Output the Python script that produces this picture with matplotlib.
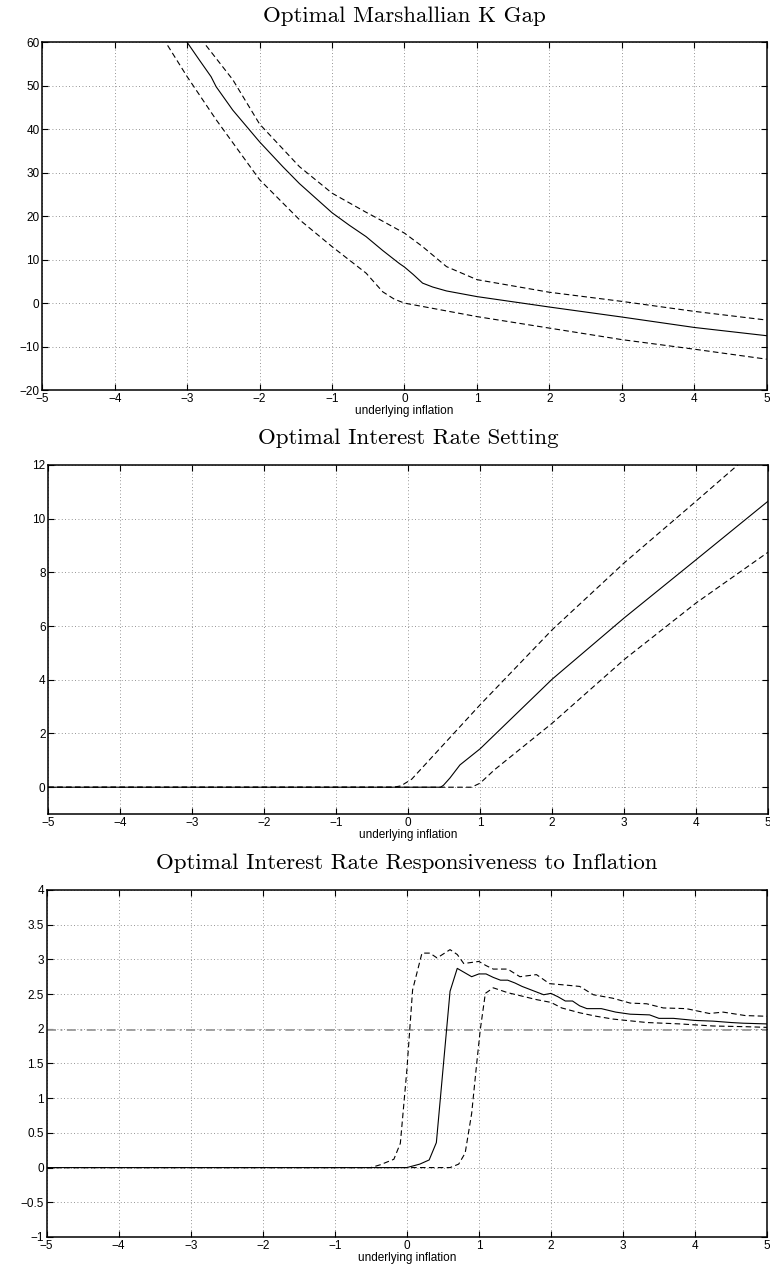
import numpy as np
import matplotlib.pyplot as plt

# Optimal Marshallian K gap: central path and upper/lower bands
k_x = [-3.0, -2.83, -2.67, -2.6, -2.37, -2.0, -1.68, -1.45, -1.0, -0.76, -0.53, -0.3, -0.07,
       0.0, 0.12, 0.25, 0.39, 0.58, 1.0, 2.0, 3.0, 4.0, 5.0]
k_mid = [60.0, 55.9, 52.1, 49.8, 44.4, 37.1, 31.4, 27.5, 20.8, 17.9, 15.3, 12.1, 9.1,
         8.3, 6.6, 4.6, 3.7, 2.8, 1.5, -0.9, -3.2, -5.6, -7.5]
k_up_x = [-2.74, -2.37, -2.0, -1.45, -1.0, -0.53, -0.35, 0.0, 0.25, 0.58, 1.0, 2.0, 3.0, 4.0, 5.0]
k_up = [59.3, 51.4, 41.2, 31.4, 25.3, 20.9, 19.3, 16.1, 13.0, 8.4, 5.4, 2.5, 0.4, -1.9, -3.9]
k_lo_x = [-3.27, -3.0, -2.6, -2.0, -1.45, -1.0, -0.53, -0.3, -0.14, 0.0, 1.0, 2.0, 3.0, 4.0, 5.0]
k_lo = [59.3, 52.1, 42.2, 28.4, 19.2, 13.0, 6.9, 2.6, 0.9, 0.0, -3.1, -5.75, -8.4, -10.6, -12.9]

# Optimal interest rate setting
r_x = [-5.0, 0.45, 0.49, 0.58, 0.72, 1.0, 2.0, 3.0, 4.0, 5.0]
r_mid = [0.0, 0.0, 0.07, 0.34, 0.83, 1.43, 4.02, 6.30, 8.47, 10.65]
r_up_x = [-5.0, -0.2, -0.1, 0.05, 1.0, 2.0, 3.0, 4.0, 4.58]
r_up = [0.0, 0.0, 0.05, 0.3, 3.07, 5.86, 8.35, 10.65, 12.0]
r_lo_x = [-5.0, 0.88, 1.0, 1.2, 2.0, 3.0, 4.0, 5.0]
r_lo = [0.0, 0.0, 0.15, 0.65, 2.38, 4.75, 6.86, 8.75]

# Optimal interest rate responsiveness to inflation
s_x = [-5.0, 0.0, 0.18, 0.31, 0.41, 0.6, 0.7, 0.9, 1.0, 1.1, 1.2, 1.3, 1.4, 1.5, 1.6, 1.7,
       1.8, 1.9, 2.0, 2.1, 2.2, 2.3, 2.4, 2.5, 2.7, 2.9, 3.1, 3.37, 3.5, 3.7, 4.0, 4.25,
       4.5, 4.67, 5.0]
s_mid = [0.0, 0.0, 0.05, 0.11, 0.36, 2.54, 2.87, 2.75, 2.79, 2.79, 2.74, 2.70, 2.70, 2.66,
         2.61, 2.57, 2.53, 2.49, 2.51, 2.46, 2.40, 2.40, 2.33, 2.29, 2.29, 2.24, 2.21, 2.20,
         2.15, 2.15, 2.12, 2.11, 2.09, 2.08, 2.07]
s_up_x = [-5.0, -0.5, -0.37, -0.18, -0.09, 0.0, 0.08, 0.21, 0.32, 0.42, 0.6, 0.7, 0.79, 1.0,
          1.1, 1.2, 1.4, 1.57, 1.8, 1.98, 2.2, 2.4, 2.59, 2.86, 3.1, 3.33, 3.56, 3.88, 4.2,
          4.39, 4.7, 5.0]
s_up = [0.0, 0.0, 0.04, 0.12, 0.35, 1.4, 2.56, 3.09, 3.09, 3.02, 3.14, 3.07, 2.94, 2.97,
        2.91, 2.86, 2.86, 2.75, 2.78, 2.65, 2.63, 2.61, 2.49, 2.44, 2.37, 2.36, 2.30, 2.29,
        2.22, 2.24, 2.19, 2.18]
s_lo_x = [-5.0, 0.6, 0.72, 0.81, 0.9, 0.97, 1.02, 1.09, 1.2, 1.4, 1.6, 1.8, 2.0, 2.15, 2.4,
          2.63, 2.86, 3.33, 3.79, 4.25, 4.7, 5.0]
s_lo = [0.0, 0.0, 0.05, 0.21, 0.78, 1.5, 1.99, 2.51, 2.59, 2.52, 2.47, 2.42, 2.38, 2.30,
        2.23, 2.18, 2.14, 2.09, 2.07, 2.04, 2.03, 2.02]
s_ref = 1.98

title_font = {'family': 'cmr10', 'size': 16.5}
plt.rcParams['font.family'] = ['Liberation Sans', 'DejaVu Sans']
plt.rcParams['axes.unicode_minus'] = True

fig = plt.figure(figsize=(7.7, 12.68), dpi=100)


def style(ax, ylim, yticks, title):
    ax.set_xlim(-5, 5)
    ax.set_ylim(*ylim)
    ax.set_xticks(np.arange(-5, 6, 1))
    ax.set_yticks(yticks)
    ax.tick_params(direction='in', top=True, right=True, length=4, width=0.8,
                   labelsize=8.5, pad=2)
    ax.grid(True, linestyle=(0, (1, 3)), color='0.45', linewidth=0.6)
    for sp in ax.spines.values():
        sp.set_linewidth(1.1)
    ax.set_xlabel('underlying inflation', fontsize=8.5, labelpad=0)
    ax.set_title(title, fontdict=title_font, pad=15)


dash = (0, (5, 3))

ax1 = fig.add_axes([0.0549, 0.6924, 0.9408, 0.2742])
ax1.plot(k_x, k_mid, color='k', lw=0.8)
ax1.plot(k_up_x, k_up, color='k', lw=0.8, linestyle=dash)
ax1.plot(k_lo_x, k_lo, color='k', lw=0.8, linestyle=dash)
style(ax1, (-20, 60), np.arange(-20, 61, 10), 'Optimal Marshallian K Gap')

ax2 = fig.add_axes([0.0627, 0.3580, 0.9347, 0.2753])
ax2.plot(r_x, r_mid, color='k', lw=0.8)
ax2.plot(r_up_x, r_up, color='k', lw=0.8, linestyle=dash)
ax2.plot(r_lo_x, r_lo, color='k', lw=0.8, linestyle=dash)
style(ax2, (-1, 12), np.arange(0, 13, 2), 'Optimal Interest Rate Setting')

ax3 = fig.add_axes([0.0606, 0.02445, 0.9355, 0.2737])
ax3.axhline(s_ref, color='0.6', lw=1.3, linestyle=(0, (5, 2.5, 1, 2.5)))
ax3.plot(s_x, s_mid, color='k', lw=0.8)
ax3.plot(s_up_x, s_up, color='k', lw=0.8, linestyle=dash)
ax3.plot(s_lo_x, s_lo, color='k', lw=0.8, linestyle=dash)
style(ax3, (-1, 4), np.arange(-1, 4.01, 0.5), 'Optimal Interest Rate Responsiveness to Inflation')
ax3.set_yticklabels(['\u22121', '\u22120.5', '0', '0.5', '1', '1.5', '2', '2.5', '3', '3.5', '4'])

fig.savefig('out.png', dpi=100)
